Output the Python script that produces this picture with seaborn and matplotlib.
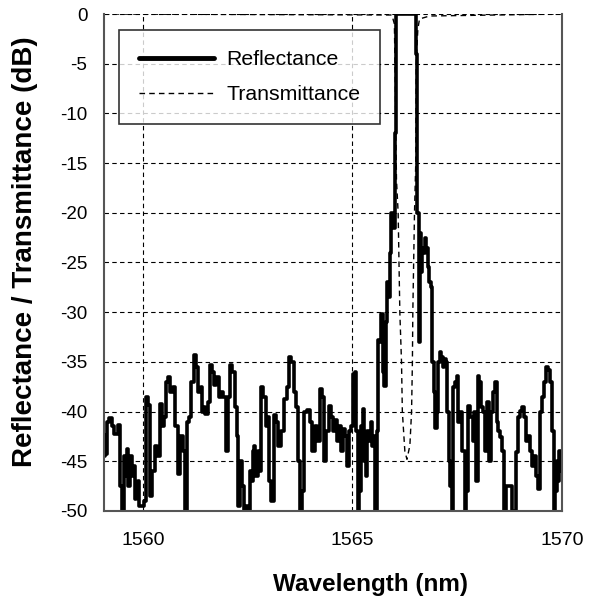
import numpy as np
import pandas as pd
import seaborn as sns
import matplotlib.pyplot as plt

# reflectance trace (wavelength nm, dB)
refl_wl = [1559.08, 1559.10, 1559.13, 1559.16, 1559.22, 1559.28, 1559.36, 1559.44, 1559.48, 1559.53,
           1559.57, 1559.60, 1559.62, 1559.66, 1559.70, 1559.76, 1559.79, 1559.83, 1559.86, 1559.89,
           1559.94, 1559.99, 1560.05, 1560.09, 1560.15, 1560.19, 1560.25, 1560.31, 1560.36, 1560.43,
           1560.48, 1560.52, 1560.59, 1560.62, 1560.68, 1560.74, 1560.81, 1560.86, 1560.92, 1560.97,
           1561.02, 1561.06, 1561.12, 1561.18, 1561.24, 1561.30, 1561.35, 1561.40, 1561.43, 1561.46,
           1561.52, 1561.57, 1561.63, 1561.68, 1561.73, 1561.77, 1561.84, 1561.89, 1561.95, 1562.00,
           1562.04, 1562.11, 1562.16, 1562.21, 1562.26, 1562.29, 1562.33, 1562.38, 1562.42, 1562.47,
           1562.52, 1562.57, 1562.61, 1562.64, 1562.66, 1562.71, 1562.76, 1562.80, 1562.85, 1562.90,
           1562.95, 1562.99, 1563.04, 1563.09, 1563.16, 1563.21, 1563.25, 1563.33, 1563.40, 1563.47,
           1563.52, 1563.56, 1563.63, 1563.68, 1563.73, 1563.76, 1563.82, 1563.87, 1563.94, 1564.01,
           1564.06, 1564.13, 1564.20, 1564.25, 1564.30, 1564.35, 1564.39, 1564.47, 1564.51, 1564.56,
           1564.61, 1564.66, 1564.70, 1564.75, 1564.80, 1564.85, 1564.89, 1564.94, 1564.99, 1565.04,
           1565.07, 1565.11, 1565.14, 1565.18, 1565.23, 1565.26, 1565.30, 1565.33, 1565.37, 1565.42,
           1565.45, 1565.49, 1565.52, 1565.56, 1565.59, 1565.63, 1565.67, 1565.70, 1565.74, 1565.77,
           1565.81, 1565.84, 1565.88, 1565.91, 1565.95, 1565.99, 1566.02, 1566.05, 1566.50, 1566.53,
           1566.57, 1566.60, 1566.62, 1566.64, 1566.67, 1566.71, 1566.75, 1566.78, 1566.82, 1566.85,
           1566.89, 1566.92, 1566.96, 1567.00, 1567.03, 1567.07, 1567.10, 1567.14, 1567.17, 1567.21,
           1567.24, 1567.28, 1567.32, 1567.35, 1567.39, 1567.42, 1567.46, 1567.51, 1567.55, 1567.60,
           1567.65, 1567.70, 1567.74, 1567.79, 1567.84, 1567.89, 1567.93, 1567.97, 1568.00, 1568.05,
           1568.10, 1568.15, 1568.19, 1568.24, 1568.29, 1568.34, 1568.38, 1568.42, 1568.46, 1568.50,
           1568.55, 1568.60, 1568.65, 1568.69, 1568.79, 1568.84, 1568.88, 1568.93, 1568.98, 1569.03,
           1569.07, 1569.12, 1569.17, 1569.22, 1569.26, 1569.31, 1569.36, 1569.41, 1569.45, 1569.50,
           1569.55, 1569.60, 1569.64, 1569.69, 1569.74, 1569.79, 1569.82, 1569.86, 1569.90, 1569.93,
           1569.95, 1569.98]
refl_db = [-44.5, -42.4, -44.3, -41, -40.6, -41.5, -42.3, -41.4, -47.5, -50,
           -44.5, -46.5, -43.8, -47.5, -44.5, -46.5, -45.5, -48.8, -48.5, -47,
           -49.5, -49.5, -49, -38.5, -39.3, -48.5, -46, -43.5, -44.5, -39.2,
           -41.5, -40.5, -37, -36.5, -38, -37.5, -41.5, -46.3, -42.5, -44,
           -50, -41, -40.5, -37, -34.3, -35.5, -38, -37.5, -40, -39.5,
           -40.2, -39, -35.3, -36, -37.3, -36.5, -38.5, -38, -38.5, -44,
           -38.5, -35.3, -36, -39.5, -42.5, -49.5, -45, -47.5, -50, -49.5,
           -50, -46, -47, -44, -43.5, -46.5, -44, -46, -37.5, -38.5,
           -41.5, -40.5, -47, -49, -40.3, -41, -43.5, -42, -38.7, -37.5,
           -34.5, -35, -38, -39.5, -45, -50, -48, -40, -39.8, -41,
           -44, -41.5, -43, -37.7, -38.5, -45, -42, -39.4, -40.5, -42,
           -40.8, -43, -41.5, -44, -41.8, -42.5, -45.5, -42, -41.5, -36.2,
           -36, -42, -50, -48, -41.5, -39.7, -45, -46.5, -42, -43,
           -41, -43.5, -42.5, -50, -42, -32.8, -33, -30.2, -36, -37.4,
           -31, -27, -28.5, -24, -20, -21.5, -12, 0, 0, -4,
           -20, -33, -22, -26, -23.5, -24, -22.5, -23.5, -25.5, -27,
           -27.5, -35, -38, -41.7, -40, -35, -34, -34.5, -35.5, -34.7,
           -35, -40, -45, -47.5, -50, -37.5, -37, -36.4, -41, -40,
           -44, -50, -48, -39.4, -40.5, -43, -40, -47, -36.4, -37,
           -39.5, -40, -44, -39, -45, -40, -38, -37, -41, -42,
           -42.6, -44, -50, -47.5, -47.5, -50, -50, -44.1, -40.5, -39.9,
           -39.5, -40.5, -43, -42.5, -44, -45.5, -44.5, -46.5, -47.8, -40,
           -38.5, -37, -35.5, -35.8, -37, -42, -50, -48, -45, -47,
           -44, -46]

# transmittance: flat at 0 dB except for the stop band dip
trans_wl = [1559.07, 1565.94, 1566.00, 1566.01, 1566.03, 1566.05, 1566.09, 1566.13, 1566.17, 1566.19,
            1566.25, 1566.30, 1566.37, 1566.41, 1566.43, 1566.44, 1566.46, 1566.48, 1566.51, 1566.52,
            1566.56, 1566.60, 1566.84, 1570.0]
trans_db = [0, -0.1, -1, -4, -10, -16.7, -20, -30, -35, -40,
            -44, -44.8, -43.4, -40, -35, -30, -25, -20, -15, -5,
            -1.5, -0.5, -0.2, 0]

refl = pd.DataFrame({"wl": refl_wl, "db": refl_db})
trans = pd.DataFrame({"wl": trans_wl, "db": trans_db})

sns.set_style("white")
plt.rcParams["font.family"] = ["Liberation Sans", "DejaVu Sans"]
plt.rcParams["axes.unicode_minus"] = False
plt.rcParams["text.color"] = "black"
plt.rcParams["axes.labelcolor"] = "black"
plt.rcParams["xtick.color"] = "black"
plt.rcParams["ytick.color"] = "black"

fig = plt.figure(figsize=(5.92, 6.01), dpi=100)
ax = fig.add_axes([0.1757, 0.1498, 0.7736, 0.8269])

sns.lineplot(data=refl, x="wl", y="db", ax=ax, color="black", linewidth=2.6,
             drawstyle="steps-mid", estimator=None, sort=False, label="Reflectance")
sns.lineplot(data=trans, x="wl", y="db", ax=ax, color="black", linewidth=1.0,
             linestyle=(0, (4, 3)), estimator=None, sort=False, label="Transmittance")

ax.set_xlim(1559.07, 1570.0)
ax.set_ylim(-50, 0)
ax.set_xticks([1560, 1565, 1570])
ax.set_yticks(np.arange(-50, 1, 5))
ax.grid(True, color="black", linestyle=(0, (4, 3)), linewidth=0.8)
ax.tick_params(axis="both", length=0)
ax.tick_params(axis="x", labelsize=14, pad=15)
ax.tick_params(axis="y", labelsize=13.5, pad=12)

for side in ["left", "bottom", "right"]:
    ax.spines[side].set_color("#555555")
    ax.spines[side].set_linewidth(1.5)
ax.spines["top"].set_visible(False)

ax.set_xlabel("Wavelength (nm)", fontsize=17.5, fontweight="bold")
ax.xaxis.set_label_coords(0.581, -0.125)
ax.set_ylabel("Reflectance / Transmittance (dB)", fontsize=20, fontweight="bold")
ax.yaxis.set_label_coords(-0.145, 0.521)

leg = ax.legend(loc="upper left", bbox_to_anchor=(0.033, 0.968), borderaxespad=0,
                fontsize=15.3, handlelength=3.5, handletextpad=0.58, labelspacing=0.75,
                borderpad=0.95, fancybox=False, frameon=True)
leg.get_frame().set_edgecolor("black")
leg.get_frame().set_linewidth(1.2)
leg.get_lines()[0].set_linewidth(3.5)

fig.savefig("out.png", dpi=100)
